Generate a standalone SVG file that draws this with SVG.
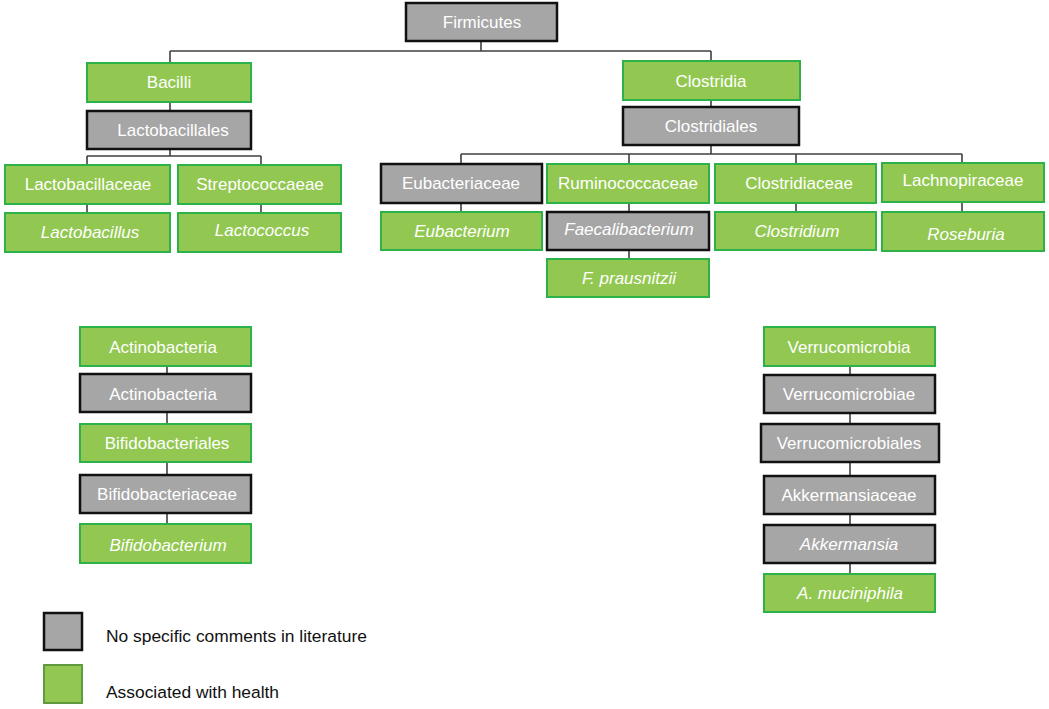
<svg xmlns="http://www.w3.org/2000/svg" width="1049" height="709" viewBox="0 0 1049 709">
<style>
.g rect{fill:#92c851;stroke:#2db24a;stroke-width:2}
.k rect{fill:#a6a6a6;stroke:#111;stroke-width:2.5}
text{font-family:"Liberation Sans",Arial,sans-serif;font-size:17px;fill:#fff;text-anchor:middle}
.i text{font-style:italic}
.leg text{fill:#111;text-anchor:start;font-size:17.4px}
#connectors path{fill:none;stroke:#404040;stroke-width:1.6}
</style>
<rect width="1049" height="709" fill="#fff"/>
<g id="connectors">
<path d="M481 41V51M170 51H711M170 51V63M711 51V61"/>
<path d="M170 102V111M170 149V156M87 156H261M87 156V165M261 156V165M87 204V213M261 204V213"/>
<path d="M711 100V107M711 145V154M461 154H962M461 154V164M629 154V164M796 154V164M962 154V163M461 203V212M629 203V212M796 203V212M962 202V212M629 250V259"/>
<path d="M167 366V374M167 412V424M167 462V475M167 513V524"/>
<path d="M850 366V375M850 413V424M850 462V476M850 514V525M850 563V574"/>
</g>
<g id="firmicutes" class="k"><rect x="406" y="3" width="151" height="38"/><text x="482" y="28">Firmicutes</text></g>
<g id="bacilli" class="g"><rect x="87" y="63" width="164" height="39"/><text x="169" y="88">Bacilli</text></g>
<g id="lactobacillales" class="k"><rect x="87" y="111" width="164" height="38"/><text x="173" y="136">Lactobacillales</text></g>
<g id="clostridia" class="g"><rect x="623" y="61" width="177" height="39"/><text x="711" y="87">Clostridia</text></g>
<g id="clostridiales" class="k"><rect x="623" y="107" width="176" height="38"/><text x="711" y="132">Clostridiales</text></g>
<g id="lactobacillaceae" class="g"><rect x="5" y="165" width="165" height="39"/><text x="88" y="190">Lactobacillaceae</text></g>
<g id="streptococcaeae" class="g"><rect x="178" y="165" width="163" height="39"/><text x="260" y="190">Streptococcaeae</text></g>
<g id="lactobacillus" class="g i"><rect x="5" y="213" width="165" height="39"/><text x="90" y="238">Lactobacillus</text></g>
<g id="lactococcus" class="g i"><rect x="178" y="213" width="163" height="39"/><text x="262" y="236">Lactococcus</text></g>
<g id="eubacteriaceae" class="k"><rect x="381" y="164" width="161" height="39"/><text x="461" y="189">Eubacteriaceae</text></g>
<g id="ruminococcaceae" class="g"><rect x="547" y="164" width="162" height="39"/><text x="628" y="189">Ruminococcaceae</text></g>
<g id="clostridiaceae" class="g"><rect x="715" y="164" width="161" height="39"/><text x="799" y="189">Clostridiaceae</text></g>
<g id="lachnopiraceae" class="g"><rect x="882" y="163" width="162" height="39"/><text x="963" y="186">Lachnopiraceae</text></g>
<g id="eubacterium" class="g i"><rect x="381" y="212" width="161" height="38"/><text x="462" y="237">Eubacterium</text></g>
<g id="faecalibacterium" class="k i"><rect x="547" y="212" width="162" height="38"/><text x="629" y="235">Faecalibacterium</text></g>
<g id="clostridium" class="g i"><rect x="715" y="212" width="161" height="38"/><text x="797" y="237">Clostridium</text></g>
<g id="roseburia" class="g i"><rect x="882" y="212" width="162" height="39"/><text x="966" y="240">Roseburia</text></g>
<g id="fprausnitzii" class="g i"><rect x="547" y="259" width="162" height="38"/><text x="629" y="284">F. prausnitzii</text></g>
<g id="actinobacteria-phylum" class="g"><rect x="80" y="327" width="171" height="39"/><text x="163" y="353">Actinobacteria</text></g>
<g id="actinobacteria-class" class="k"><rect x="80" y="374" width="171" height="38"/><text x="163" y="400">Actinobacteria</text></g>
<g id="bifidobacteriales" class="g"><rect x="80" y="424" width="171" height="38"/><text x="167" y="449">Bifidobacteriales</text></g>
<g id="bifidobacteriaceae" class="k"><rect x="80" y="475" width="171" height="38"/><text x="167" y="500">Bifidobacteriaceae</text></g>
<g id="bifidobacterium" class="g i"><rect x="80" y="524" width="171" height="39"/><text x="168" y="551">Bifidobacterium</text></g>
<g id="verrucomicrobia" class="g"><rect x="764" y="327" width="171" height="39"/><text x="849" y="353">Verrucomicrobia</text></g>
<g id="verrucomicrobiae" class="k"><rect x="764" y="375" width="171" height="38"/><text x="849" y="400">Verrucomicrobiae</text></g>
<g id="verrucomicrobiales" class="k"><rect x="761" y="424" width="178" height="38"/><text x="849" y="449">Verrucomicrobiales</text></g>
<g id="akkermansiaceae" class="k"><rect x="764" y="476" width="171" height="38"/><text x="849" y="501">Akkermansiaceae</text></g>
<g id="akkermansia" class="k i"><rect x="764" y="525" width="171" height="38"/><text x="849" y="550">Akkermansia</text></g>
<g id="amuciniphila" class="g i"><rect x="764" y="574" width="171" height="38"/><text x="850" y="599">A. muciniphila</text></g>
<g id="legend" class="leg">
<rect x="44" y="613" width="38" height="37" fill="#a6a6a6" stroke="#111" stroke-width="2.5"/>
<text x="106" y="642">No specific comments in literature</text>
<rect x="44" y="665" width="38" height="38" fill="#92c851" stroke="#5f9a3e" stroke-width="2"/>
<text x="106" y="698">Associated with health</text>
</g>
</svg>
